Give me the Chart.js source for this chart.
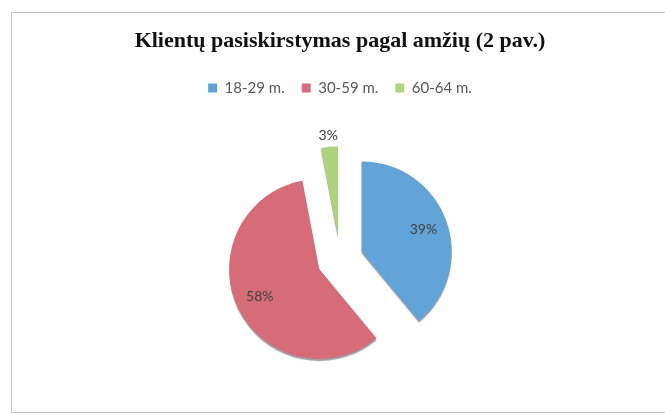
<!DOCTYPE html>
<html>
<head>
<meta charset="utf-8">
<script src="https://cdn.jsdelivr.net/npm/chart.js@4/dist/chart.umd.min.js"></script>
<style>
  body { margin: 0; background: #fff; }
  #wrap { position: relative; width: 665px; height: 415px; }
  #frame {
    position: absolute; left: 11px; top: 12px; right: -2px; bottom: 2px;
    border: 1px solid #c4c6cc;
  }
  canvas { position: absolute; left: 0; top: 0; }
</style>
</head>
<body>
<div id="wrap">
  <div id="frame"></div>
  <canvas id="ageChart" width="665" height="415"></canvas>
</div>
<script>
  const categories = ["18-29 m.", "30-59 m.", "60-64 m."];
  const shares = [39, 58, 3];
  const sliceColors = ["#62a4d8", "#d56c77", "#afd27c"];

  const explodeBy = 23; // how far each slice is pulled out

  // draw every slice pulled out along its middle angle
  const explodePlugin = {
    id: "explode",
    beforeDatasetDraw(chart, args) {
      const ctx = chart.ctx;
      args.meta.data.forEach(function (arc) {
        const mid = (arc.startAngle + arc.endAngle) / 2;
        ctx.save();
        ctx.translate(Math.cos(mid) * explodeBy, Math.sin(mid) * explodeBy);
        ctx.shadowColor = "rgba(40,40,60,0.45)";
        ctx.shadowOffsetY = 2;
        ctx.shadowBlur = 1;
        arc.draw(ctx);
        ctx.restore();
      });
      return false;
    },
    afterDatasetsDraw(chart) {
      const ctx = chart.ctx;
      const meta = chart.getDatasetMeta(0);
      const total = shares.reduce((a, b) => a + b, 0);
      ctx.save();
      ctx.font = "14px Lato";
      ctx.fillStyle = "#404040";
      ctx.textAlign = "center";
      ctx.textBaseline = "middle";
      meta.data.forEach(function (arc, i) {
        const mid = (arc.startAngle + arc.endAngle) / 2;
        const part = shares[i] / total;
        const r = part < 0.06 ? arc.outerRadius * 1.13 : arc.outerRadius * 0.73;
        const cx = arc.x + Math.cos(mid) * explodeBy;
        const cy = arc.y + Math.sin(mid) * explodeBy;
        ctx.fillText(Math.round(part * 100) + "%", cx + Math.cos(mid) * r, cy + Math.sin(mid) * r);
      });
      ctx.restore();
    }
  };

  const ctx = document.getElementById("ageChart").getContext("2d");
  new Chart(ctx, {
    type: "pie",
    data: {
      labels: categories,
      datasets: [
        {
          data: shares,
          backgroundColor: sliceColors,
          borderWidth: 0,
          offset: 0,
        },
      ],
    },
    options: {
      responsive: false,
      animation: false,
      radius: 90,
      layout: { padding: { top: 16, left: 15, right: 0, bottom: 2 } },
      plugins: {
        title: {
          display: true,
          text: "Klientų pasiskirstymas pagal amžių (2 pav.)",
          color: "#111",
          font: { family: "Liberation Serif", size: 22, weight: "bold" },
          padding: { top: 12, bottom: 9 },
        },
        legend: {
          position: "top",
          labels: {
            boxWidth: 9,
            boxHeight: 9,
            padding: 17,
            color: "#595959",
            font: { family: "Lato", size: 15 },
          },
        },
        tooltip: { enabled: false },
      },
    },
    plugins: [explodePlugin],
  });
</script>
</body>
</html>
